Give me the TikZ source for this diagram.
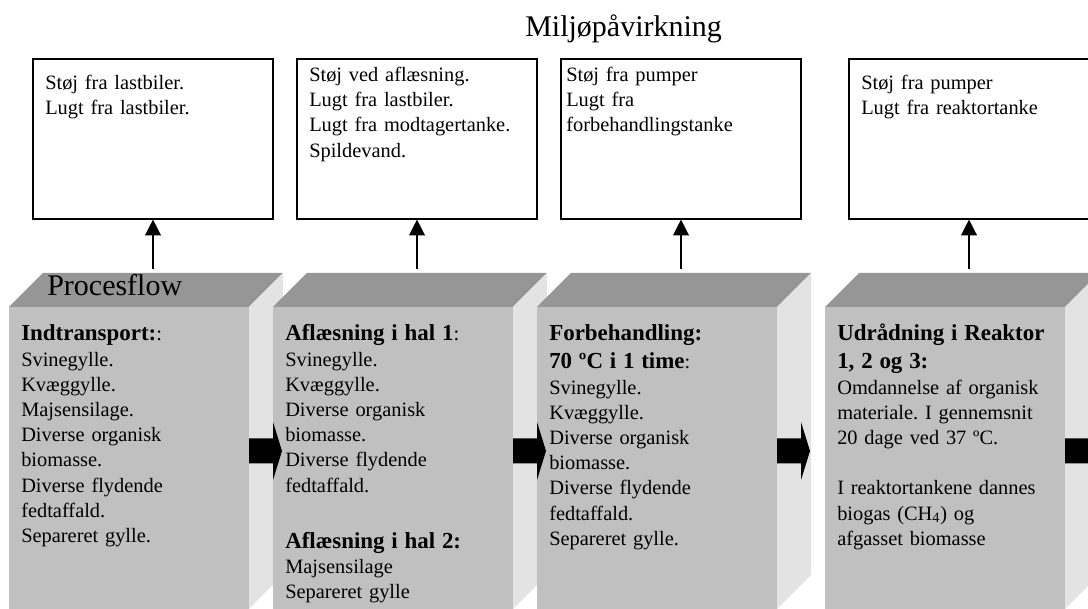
\documentclass[tikz,border=0pt]{standalone}
\usepackage{fontspec}
\setmainfont{Liberation Serif}
\usetikzlibrary{positioning,arrows.meta}
\frenchspacing
\definecolor{frontgray}{RGB}{192,192,192}
\definecolor{topgray}{RGB}{150,150,150}
\definecolor{sidegray}{RGB}{227,227,227}
\newcommand{\bodysize}{\fontsize{15.3}{18.9}\selectfont}
\newcommand{\titlesize}{\fontsize{22.5}{27}\selectfont}
\newcommand{\hd}[1]{{\fontsize{17.2}{18.9}\selectfont\bfseries #1}}
\tikzstyle{cfront}=[rectangle, fill=frontgray, minimum width=180pt,
                    minimum height=226.5pt, inner sep=0pt, outer sep=0pt]
\tikzstyle{ctop}=[fill=topgray]
\tikzstyle{cside}=[fill=sidegray]
\tikzstyle{mbox}=[rectangle, draw=black, line width=1.5pt, minimum width=180pt,
                  minimum height=120pt, inner sep=0pt, outer sep=0pt]
\tikzstyle{ctext}=[anchor=base west, inner sep=0pt, text width=170pt, align=left, font=\bodysize]
\tikzstyle{ttext}=[anchor=base west, inner sep=0pt, font=\titlesize]
\tikzstyle{uparrow}=[-{Triangle[length=12pt,width=11.7pt]}, line width=1.8pt]
\tikzstyle{flowarrow}=[fill=black]
\begin{document}
\begin{tikzpicture}[x=0.75pt, y=0.75pt]
\useasboundingbox (0,0) rectangle (1088,609);

% process cubes
\node (TRANSP) [cfront, anchor=south west] at (9,0) {};
 \fill[ctop] (TRANSP.north west) -- (TRANSP.north east) -- ++(34,34) -- ([shift={(34,34)}]TRANSP.north west) -- cycle;
 \fill[cside] (TRANSP.north east) -- ++(34,34) -- ([shift={(34,34)}]TRANSP.south east) -- (TRANSP.south east) -- cycle;
\node (AFLAES) [cfront, right=18pt of TRANSP] {};
 \fill[ctop] (AFLAES.north west) -- (AFLAES.north east) -- ++(34,34) -- ([shift={(34,34)}]AFLAES.north west) -- cycle;
 \fill[cside] (AFLAES.north east) -- ++(34,34) -- ([shift={(34,34)}]AFLAES.south east) -- (AFLAES.south east) -- cycle;
\node (FORBEH) [cfront, right=18pt of AFLAES] {};
 \fill[ctop] (FORBEH.north west) -- (FORBEH.north east) -- ++(34,34) -- ([shift={(34,34)}]FORBEH.north west) -- cycle;
 \fill[cside] (FORBEH.north east) -- ++(34,34) -- ([shift={(34,34)}]FORBEH.south east) -- (FORBEH.south east) -- cycle;
\node (REAKTOR) [cfront, right=36pt of FORBEH] {};
 \fill[ctop] (REAKTOR.north west) -- (REAKTOR.north east) -- ++(34,34) -- ([shift={(34,34)}]REAKTOR.north west) -- cycle;
 \fill[cside] (REAKTOR.north east) -- ++(34,34) -- ([shift={(34,34)}]REAKTOR.south east) -- (REAKTOR.south east) -- cycle;

% block arrows between the cubes
\fill[flowarrow] ([shift={(0,145.5)}]TRANSP.south east) -- ++(24,0) -- ++(0,-16.5) -- ++(9,29) -- ++(-9,29) -- ++(0,-16.5) -- ++(-24,0) -- cycle;
\fill[flowarrow] ([shift={(0,145.5)}]AFLAES.south east) -- ++(24,0) -- ++(0,-16.5) -- ++(9,29) -- ++(-9,29) -- ++(0,-16.5) -- ++(-24,0) -- cycle;
\fill[flowarrow] ([shift={(0,145.5)}]FORBEH.south east) -- ++(24,0) -- ++(0,-16.5) -- ++(9,29) -- ++(-9,29) -- ++(0,-16.5) -- ++(-24,0) -- cycle;
\fill[flowarrow] ([shift={(0,145.5)}]REAKTOR.south east) -- ++(24,0) -- ++(0,-16.5) -- ++(9,29) -- ++(-9,29) -- ++(0,-16.5) -- ++(-24,0) -- cycle;

\node (PROCES) [ttext] at ([shift={(38,11)}]TRANSP.north west) {Procesflow};

\node (TRANSPTXT) [ctext] at ([shift={(12,-34)}]TRANSP.north west) {\hd{Indtransport:}:\\
Svinegylle.\\Kvæggylle.\\Majsensilage.\\Diverse organisk\\biomasse.\\Diverse flydende\\fedtaffald.\\Separeret gylle.};
\node (AFLAESTXT) [ctext] at ([shift={(12,-34)}]AFLAES.north west) {\hd{Aflæsning i hal 1}:\\
Svinegylle.\\Kvæggylle.\\Diverse organisk\\biomasse.\\Diverse flydende\\fedtaffald.\\[23.4pt]
\hd{Aflæsning i hal 2:}\\Majsensilage\\Separeret gylle};
\node (FORBEHTXT) [ctext] at ([shift={(12,-34)}]FORBEH.north west) {\hd{Forbehandling:}\\[2pt]
\hd{70 ºC i 1 time}:\\Svinegylle.\\Kvæggylle.\\Diverse organisk\\biomasse.\\Diverse flydende\\fedtaffald.\\Separeret gylle.};
\node (REAKTORTXT) [ctext] at ([shift={(12,-34)}]REAKTOR.north west) {\hd{Udrådning i Reaktor}\\[2pt]
\hd{1, 2 og 3:}\\Omdannelse af organisk\\materiale. I gennemsnit\\20 dage ved 37 ºC.\\[18.9pt]
I reaktortankene dannes\\biogas (CH\textsubscript{4}) og\\afgasset biomasse};

% environmental impact boxes
\node (MTRANSP) [mbox, above=65.625pt of TRANSP, xshift=18pt] {};
\node (MAFLAES) [mbox, above=65.625pt of AFLAES, xshift=18pt] {};
\node (MFORBEH) [mbox, above=65.625pt of FORBEH, xshift=18pt] {};
\node (MREAKTOR) [mbox, above=65.625pt of REAKTOR, xshift=18pt] {};
 \draw[uparrow] ([yshift=-37pt]MTRANSP.south) -- (MTRANSP.south);
 \draw[uparrow] ([yshift=-37pt]MAFLAES.south) -- (MAFLAES.south);
 \draw[uparrow] ([yshift=-37pt]MFORBEH.south) -- (MFORBEH.south);
 \draw[uparrow] ([yshift=-37pt]MREAKTOR.south) -- (MREAKTOR.south);

\node (MTRANSPTXT) [ctext] at ([shift={(12,-30)}]MTRANSP.north west) {Støj fra lastbiler.\\Lugt fra lastbiler.};
\node (MAFLAESTXT) [ctext] at ([shift={(12,-22)}]MAFLAES.north west) {Støj ved aflæsning.\\Lugt fra lastbiler.\\Lugt fra modtagertanke.\\Spildevand.};
\node (MFORBEHTXT) [ctext] at ([shift={(5,-22)}]MFORBEH.north west) {Støj fra pumper\\Lugt fra\\forbehandlingstanke};
\node (MREAKTORTXT) [ctext] at ([shift={(12,-30)}]MREAKTOR.north west) {Støj fra pumper\\Lugt fra reaktortanke};

\node (MILJO) [ttext] at (525,572.5) {Miljøpåvirkning};

\end{tikzpicture}
\end{document}
